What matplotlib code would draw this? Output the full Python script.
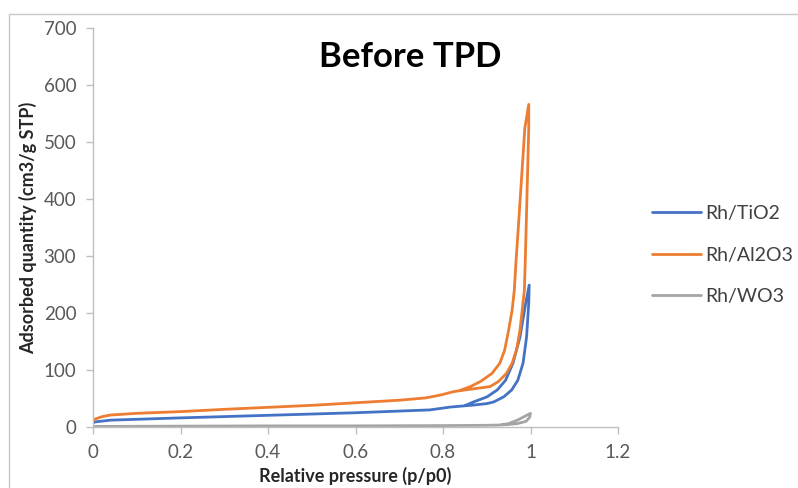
import numpy as np
import matplotlib
matplotlib.use('Agg')
import matplotlib.pyplot as plt
from matplotlib.patches import Rectangle

plt.rcParams['font.family'] = ['Lato', 'DejaVu Sans']

# ==================== data ====================
# Rh/TiO2 : adsorption branch, then desorption branch
tio2_ads_p = [0.0, 0.005, 0.04, 0.2, 0.4, 0.6, 0.77, 0.817, 0.84, 0.87, 0.9, 0.916,
              0.939, 0.957, 0.971, 0.983, 0.991, 0.996, 0.997]
tio2_ads_v = [7, 9, 12, 16, 20.5, 25, 30, 35, 36.5, 38.5, 41, 44, 53, 65, 82, 112,
              158, 217, 249]
tio2_des_p = [0.997, 0.989, 0.976, 0.960, 0.943, 0.924, 0.901, 0.870, 0.85]
tio2_des_v = [249, 217, 158, 112, 82, 65, 53, 44, 37.5]

# Rh/Al2O3
al2o3_ads_p = [0.0, 0.005, 0.02, 0.04, 0.1, 0.2, 0.3, 0.4, 0.5, 0.6, 0.7, 0.76,
               0.794, 0.824, 0.85, 0.88, 0.908, 0.927, 0.945, 0.958, 0.968, 0.976,
               0.981, 0.986, 0.988, 0.990, 0.992, 0.994, 0.996, 0.996]
al2o3_ads_v = [11, 14, 18, 21, 24, 27, 31, 34.5, 38, 42.5, 47, 51, 56, 62, 65, 68,
               71, 80, 94, 112, 135, 170, 205, 240, 290, 348, 407, 465, 524, 566]
al2o3_des_p = [0.996, 0.987, 0.982, 0.977, 0.972, 0.967, 0.963, 0.958, 0.950,
               0.941, 0.930, 0.912, 0.886, 0.863, 0.84]
al2o3_des_v = [566, 524, 465, 407, 348, 292, 240, 205, 170, 135, 112, 94, 80, 71, 64.5]

# Rh/WO3
wo3_ads_p = [0.0, 0.2, 0.4, 0.6, 0.8, 0.9, 0.93, 0.95, 0.97, 0.99, 0.998, 1.0]
wo3_ads_v = [1, 1.5, 2, 2, 2.5, 3, 3.5, 4.5, 6, 10, 17, 24]
wo3_des_p = [1.0, 0.995, 0.985, 0.97, 0.95, 0.935]
wo3_des_v = [24, 22, 18, 12, 6, 4]

series_names = ['Rh/TiO2', 'Rh/Al2O3', 'Rh/WO3']
series_colors = ['#4472C4', '#ED7D31', '#A5A5A5']
x_ticks = [0, 0.2, 0.4, 0.6, 0.8, 1, 1.2]
x_ticklabels = ['0', '0.2', '0.4', '0.6', '0.8', '1', '1.2']
y_ticks = [0, 100, 200, 300, 400, 500, 600, 700]
# =============================================

W, H = 798, 488
fig = plt.figure(figsize=(W / 100, H / 100), dpi=100)
ax = fig.add_axes([93 / W, 1 - 427 / H, (618 - 93) / W, (427 - 28) / H])

curves = [
    (tio2_ads_p + tio2_des_p, tio2_ads_v + tio2_des_v),
    (al2o3_ads_p + al2o3_des_p, al2o3_ads_v + al2o3_des_v),
    (wo3_ads_p + wo3_des_p, wo3_ads_v + wo3_des_v),
]
for (p, v), name, c in zip(curves, series_names, series_colors):
    ax.plot(p, v, color=c, lw=2.0, label=name, solid_joinstyle='round',
            solid_capstyle='round')

ax.set_xlim(0, 1.2)
ax.set_ylim(0, 700)
ax.set_xticks(x_ticks)
ax.set_xticklabels(x_ticklabels)
ax.set_yticks(y_ticks)
for s in ['top', 'right']:
    ax.spines[s].set_visible(False)
for s in ['left', 'bottom']:
    ax.spines[s].set_color('#bfbfbf')
    ax.spines[s].set_linewidth(1.0)
ax.tick_params(axis='both', direction='out', length=5, width=1.0, color='#bfbfbf',
               labelsize=13.5, labelcolor='#595959')
ax.tick_params(axis='x', pad=7)
ax.tick_params(axis='y', pad=7)

ax.set_xlabel('Relative pressure (p/p0)', fontsize=13, fontweight='bold', color='#262626')
ax.set_ylabel('Adsorbed quantity (cm3/g STP)', fontsize=13, fontweight='bold', color='#262626')
ax.xaxis.set_label_coords(0.5, (427 - 467) / 399)
ax.yaxis.set_label_coords((37 - 93) / 525, 0.5)

fig.text(410 / W, 1 - 57 / H, 'Before TPD', fontsize=25, fontweight='bold',
         ha='center', va='center', color='black')

fig.legend(loc='center left', bbox_to_anchor=(652 / W, 1 - 255 / H), frameon=False,
           fontsize=14, handlelength=2.5, handletextpad=0.25, labelspacing=1.25,
           borderpad=0, borderaxespad=0, labelcolor='#404040')

# outer chart-area border (cropped on the right and bottom)
fig.add_artist(Rectangle((9 / W, -0.1), 1.0, 1 - 14 / H + 0.1, transform=fig.transFigure,
                         fill=False, edgecolor='#c8c8c8', lw=1.0))

plt.savefig('out.png', dpi=100)
plt.close()
print("Saved: out.png")
